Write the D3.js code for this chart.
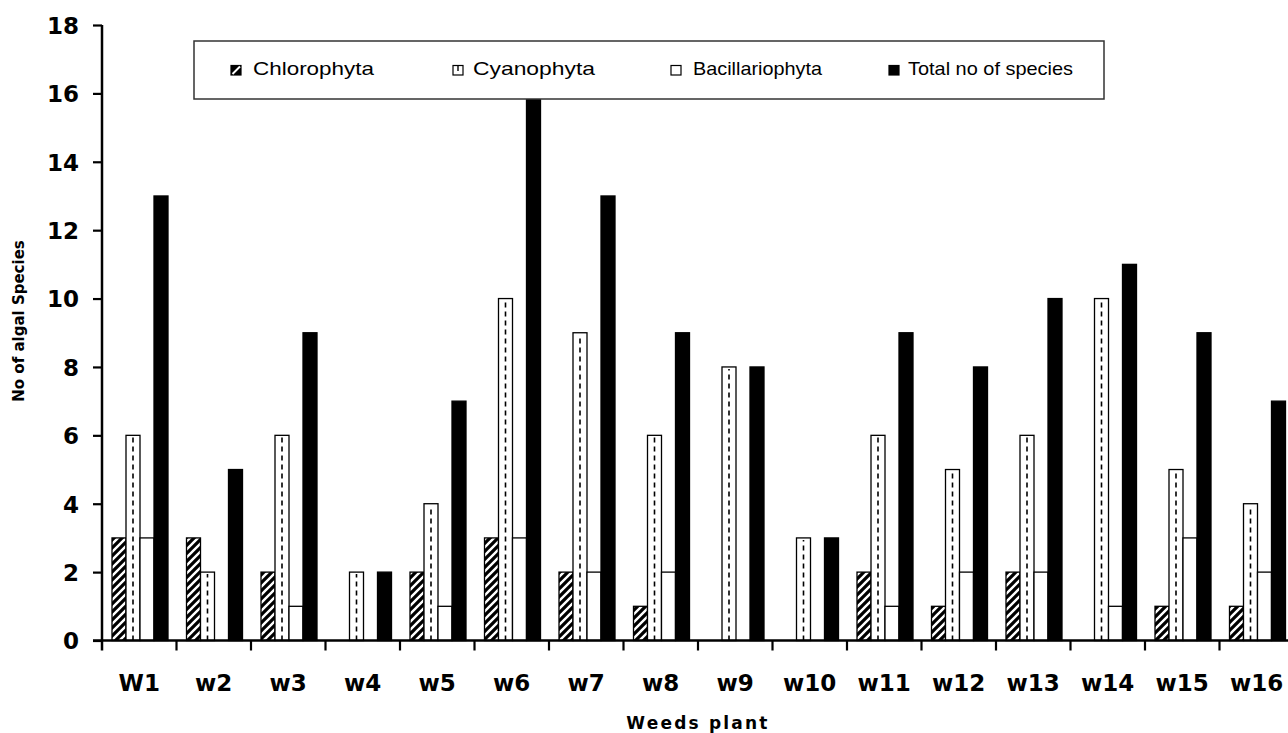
<!DOCTYPE html>
<html>
<head>
<meta charset="utf-8">
<script src="https://cdn.jsdelivr.net/npm/d3@7"></script>
<style>
  html, body { margin: 0; padding: 0; background: #fff; }
  svg { display: block; }
</style>
</head>
<body>
<svg id="chart" width="1288" height="733"></svg>
<script>
// Weed host plants
const weeds = ["W1","w2","w3","w4","w5","w6","w7","w8","w9","w10","w11","w12","w13","w14","w15","w16"];
// Number of algal species per group on each weed
const chlorophyta     = [3, 3, 2, 0, 2, 3, 2, 1, 0, 0, 2, 1, 2, 0, 1, 1];
const cyanophyta      = [6, 2, 6, 2, 4, 10, 9, 6, 8, 3, 6, 5, 6, 10, 5, 4];
const bacillariophyta = [3, 0, 1, 0, 1, 3, 2, 2, 0, 0, 1, 2, 2, 1, 3, 2];
const totalSpecies    = [13, 5, 9, 2, 7, 16, 13, 9, 8, 3, 9, 8, 10, 11, 9, 7];
const seriesNames = ["Chlorophyta", "Cyanophyta", "Bacillariophyta", "Total no of species"];
const yTicks = [0, 2, 4, 6, 8, 10, 12, 14, 16, 18];

const series = [chlorophyta, cyanophyta, bacillariophyta, totalSpecies];

const svg = d3.select("#chart");
const axisX0 = 102, catW = 74.5;
const x = d3.scaleBand().domain(weeds).range([axisX0, axisX0 + catW * weeds.length]).padding(0);
const xs = d3.scaleBand().domain(seriesNames).range([10, 66]).padding(0);
const y = d3.scaleLinear().domain([0, 18]).range([640.5, 25]);

// patterns
const defs = svg.append("defs");
const hatch = defs.append("pattern").attr("id", "hatch")
  .attr("patternUnits", "userSpaceOnUse").attr("width", 8).attr("height", 8);
hatch.append("rect").attr("width", 8).attr("height", 8).attr("fill", "#000");
hatch.append("path").attr("d", "M-2,10 L10,-2 M-2,2 L2,-2 M6,10 L10,6")
  .attr("stroke", "#fff").attr("stroke-width", 2.4);

const fills = ["url(#hatch)", "#fff", "#fff", "#000"];

// bars
const rows = [];
weeds.forEach((w, i) => {
  series.forEach((s, k) => rows.push({ w, k, v: s[i], name: seriesNames[k] }));
});

const g = svg.append("g");
const drawn = rows.filter(d => d.v > 0);
g.selectAll("rect.bar").data(drawn).join("rect")
  .attr("class", "bar")
  .attr("x", d => x(d.w) + xs(d.name))
  .attr("y", d => y(d.v))
  .attr("width", xs.bandwidth())
  .attr("height", d => y(0) - y(d.v))
  .attr("fill", d => fills[d.k])
  .attr("stroke", "#000")
  .attr("stroke-width", 1.3);

// dashed centre line of the Cyanophyta bars
g.selectAll("line.dash").data(drawn.filter(d => d.k === 1)).join("line")
  .attr("class", "dash")
  .attr("x1", d => x(d.w) + xs(d.name) + xs.bandwidth() / 2)
  .attr("x2", d => x(d.w) + xs(d.name) + xs.bandwidth() / 2)
  .attr("y1", y(0))
  .attr("y2", d => y(d.v) + 2)
  .attr("stroke", "#000")
  .attr("stroke-width", 1.6)
  .attr("stroke-dasharray", "5,4");

// y axis
const yAxis = svg.append("g").attr("transform", `translate(${axisX0},0)`)
  .call(d3.axisLeft(y).tickValues(yTicks).tickSize(9).tickPadding(14).tickFormat(d3.format("d")));
yAxis.select(".domain").remove();
yAxis.append("line").attr("x1", 0).attr("x2", 0).attr("y1", y(18)).attr("y2", y(0) + 10)
  .attr("stroke", "#000").attr("stroke-width", 2.5);
yAxis.selectAll(".tick line").attr("stroke-width", 2.2);
yAxis.selectAll(".tick text")
  .attr("font-family", "'DejaVu Sans', sans-serif").attr("font-weight", "bold")
  .attr("font-size", 23).attr("fill", "#000").attr("dy", "0.36em");

// x axis
const boundaries = d3.range(weeds.length + 1).map(i => axisX0 + catW * i);
const xAxis = svg.append("g");
xAxis.append("line").attr("x1", axisX0 - 9).attr("x2", 1300)
  .attr("y1", y(0)).attr("y2", y(0)).attr("stroke", "#000").attr("stroke-width", 2.5);
xAxis.selectAll("line.tk").data(boundaries.slice(1)).join("line").attr("class", "tk")
  .attr("x1", d => d).attr("x2", d => d).attr("y1", y(0)).attr("y2", y(0) + 10)
  .attr("stroke", "#000").attr("stroke-width", 2.2);
xAxis.selectAll("text").data(weeds).join("text")
  .attr("x", d => x(d) + x.bandwidth() / 2)
  .attr("y", 691)
  .attr("text-anchor", "middle")
  .attr("font-family", "'DejaVu Sans', sans-serif").attr("font-weight", "bold")
  .attr("font-size", 23).attr("fill", "#000")
  .text(d => d);

// axis titles
svg.append("text")
  .attr("x", 698).attr("y", 729)
  .attr("text-anchor", "middle")
  .attr("font-family", "'DejaVu Sans', sans-serif").attr("font-weight", "bold")
  .attr("font-size", 17).attr("letter-spacing", "2.2px").attr("fill", "#000")
  .text("Weeds plant");
svg.append("text")
  .attr("transform", "translate(24,321) rotate(-90)")
  .attr("text-anchor", "middle")
  .attr("font-family", "'DejaVu Sans', sans-serif").attr("font-weight", "bold")
  .attr("font-size", 15).attr("fill", "#000")
  .text("No of algal Species");

// legend
const legendLayout = [
  { sx: 231, tx: 253, len: 121 },
  { sx: 453, tx: 473, len: 122 },
  { sx: 671, tx: 693, len: 129 },
  { sx: 889, tx: 908, len: 165 }
];
const legend = svg.append("g");
legend.append("rect").attr("x", 194).attr("y", 41).attr("width", 910).attr("height", 58)
  .attr("fill", "#fff").attr("stroke", "#333").attr("stroke-width", 1.5);
const items = legend.selectAll("g.item").data(seriesNames).join("g").attr("class", "item");
items.append("rect")
  .attr("x", (d, i) => legendLayout[i].sx).attr("y", 65.5)
  .attr("width", 10).attr("height", 9.5)
  .attr("fill", (d, i) => i === 0 ? "#000" : fills[i])
  .attr("stroke", "#000").attr("stroke-width", 1.2);
// small marks inside the legend keys
legend.append("path").attr("d", "M232.5,74 L240,66.5").attr("stroke", "#fff").attr("stroke-width", 2);
legend.append("line").attr("x1", 458).attr("x2", 458).attr("y1", 66).attr("y2", 71)
  .attr("stroke", "#000").attr("stroke-width", 1.4);
items.append("text")
  .attr("x", (d, i) => legendLayout[i].tx).attr("y", 75)
  .attr("textLength", (d, i) => legendLayout[i].len).attr("lengthAdjust", "spacingAndGlyphs")
  .attr("font-family", "'Liberation Sans', Arial, sans-serif")
  .attr("font-size", 19).attr("fill", "#000")
  .text(d => d);
</script>
</body>
</html>
